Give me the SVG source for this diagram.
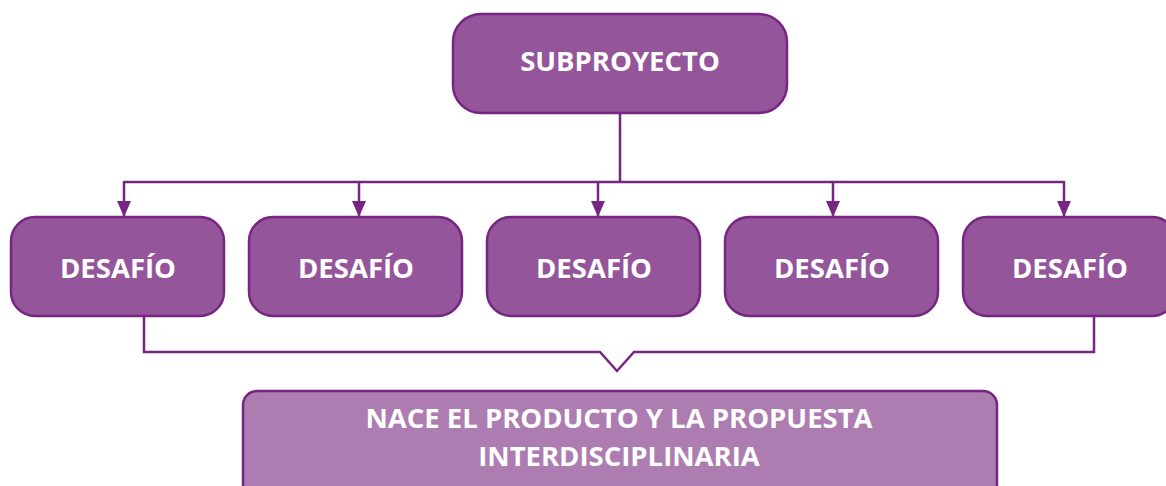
<svg xmlns="http://www.w3.org/2000/svg" width="1166" height="486" viewBox="0 0 1166 486">
<defs>
<style>
.box{fill:#94559b;stroke:#772583;stroke-width:2.5}
.light{fill:#ad7db1;stroke:#772583;stroke-width:2.5}
.lbl{font-family:"Open Sans","Noto Sans","Liberation Sans",sans-serif;font-weight:700;font-size:27.5px;fill:#ffffff;text-anchor:middle}
.ln{fill:none;stroke:#772583;stroke-width:2.5}
</style>
<marker id="arr" viewBox="0 0 16 14" refX="16" refY="7" markerWidth="16" markerHeight="14" markerUnits="userSpaceOnUse" orient="auto">
<path d="M0,0 L16,7 L0,14 Z" fill="#772583"/>
</marker>
</defs>
<rect width="1166" height="486" fill="#ffffff"/>
<g id="connectors">
<line class="ln" x1="620" y1="113" x2="620" y2="182"/>
<line class="ln" x1="124" y1="182" x2="1064" y2="182"/>
<line class="ln" x1="124" y1="181" x2="124" y2="217" marker-end="url(#arr)"/>
<line class="ln" x1="359" y1="181" x2="359" y2="217" marker-end="url(#arr)"/>
<line class="ln" x1="598" y1="181" x2="598" y2="217" marker-end="url(#arr)"/>
<line class="ln" x1="833" y1="181" x2="833" y2="217" marker-end="url(#arr)"/>
<line class="ln" x1="1064" y1="181" x2="1064" y2="217" marker-end="url(#arr)"/>
<polyline class="ln" points="144,316 144,352 600,352 617,371 634,352 1094,352 1094,316"/>
</g>
<g id="subproyecto">
<rect class="box" x="453" y="14" width="334" height="99" rx="28"/>
<text class="lbl" x="620" y="71">SUBPROYECTO</text>
</g>
<g id="desafio1">
<rect class="box" x="11" y="217" width="213" height="99" rx="24"/>
<text class="lbl" x="118" y="278">DESAFÍO</text>
</g>
<g id="desafio2">
<rect class="box" x="249" y="217" width="213" height="99" rx="24"/>
<text class="lbl" x="356" y="278">DESAFÍO</text>
</g>
<g id="desafio3">
<rect class="box" x="487" y="217" width="213" height="99" rx="24"/>
<text class="lbl" x="594" y="278">DESAFÍO</text>
</g>
<g id="desafio4">
<rect class="box" x="725" y="217" width="213" height="99" rx="24"/>
<text class="lbl" x="832" y="278">DESAFÍO</text>
</g>
<g id="desafio5">
<rect class="box" x="963" y="217" width="213" height="99" rx="24"/>
<text class="lbl" x="1070" y="278">DESAFÍO</text>
</g>
<g id="resultado">
<rect class="light" x="243" y="391" width="754" height="110" rx="14"/>
<text class="lbl" x="619" y="428">NACE EL PRODUCTO Y LA PROPUESTA</text>
<text class="lbl" x="619" y="466">INTERDISCIPLINARIA</text>
</g>
</svg>
